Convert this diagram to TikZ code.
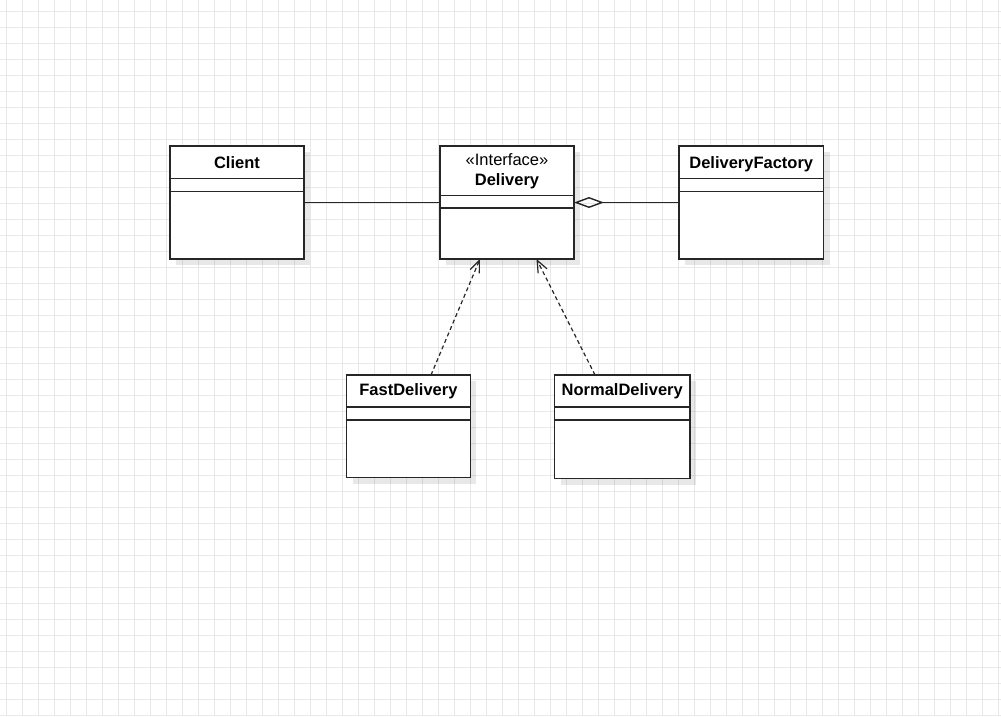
\documentclass[tikz,border=0pt]{standalone}
\usepackage{fontspec}
\setmainfont{Liberation Sans}
\usetikzlibrary{arrows.meta,calc,shadows}

\tikzset{
  gridline/.style={black!9, line width=0.8pt},
  classbox/.style={draw=black!85, line width=1.3pt, fill=white, anchor=north west,
    inner sep=0pt, outer sep=0pt,
    drop shadow={shadow xshift=6pt, shadow yshift=-6pt, fill=black, opacity=0.09}},
  classline/.style={black!85, line width=1.3pt},
  classname/.style={font=\fontsize{16.5}{19}\selectfont\bfseries, text height=11.8pt, text depth=0pt, inner sep=0pt},
  stereotype/.style={font=\fontsize{16.5}{19}\selectfont, text height=11.8pt, text depth=0pt, inner sep=0pt},
  assoc/.style={black!85, line width=1.4pt},
  aggregation/.style={black!85, line width=1.4pt, {Diamond[open,length=30pt,width=11pt]}-},
  realize/.style={black!85, line width=1.2pt, dash pattern=on 4pt off 3pt, -{Straight Barb[length=12pt,width=10pt]}}
}

\begin{document}
\begin{tikzpicture}[x=1pt, y=-1pt]
\useasboundingbox (0,0) rectangle (1001,716);

% Background grid
\foreach \x in {6.7,22.7,...,1000} \draw[gridline] (\x,0) -- (\x,716);
\foreach \y in {11.7,27.7,...,716} \draw[gridline] (0,\y) -- (1001,\y);

% Client
\node[classbox, minimum width=134pt, minimum height=113pt] (client) at (170,146) {};
\node[classname] (clientname) at ($(client.north)+(0,16.3)$) {Client};
\draw[classline] ($(client.north west)+(0,32.5)$) -- ($(client.north east)+(0,32.5)$);
\draw[classline] ($(client.north west)+(0,45.5)$) -- ($(client.north east)+(0,45.5)$);

% Delivery interface
\node[classbox, minimum width=134pt, minimum height=113pt] (delivery) at (440,146) {};
\node[stereotype] (deliverystereo) at ($(delivery.north)+(0,14)$) {«Interface»};
\node[classname] (deliveryname) at ($(delivery.north)+(0,33.5)$) {Delivery};
\draw[classline] ($(delivery.north west)+(0,49.5)$) -- ($(delivery.north east)+(0,49.5)$);
\draw[classline] ($(delivery.north west)+(0,62)$) -- ($(delivery.north east)+(0,62)$);

% DeliveryFactory
\node[classbox, minimum width=144.5pt, minimum height=113pt] (factory) at (679,146) {};
\node[classname] (factoryname) at ($(factory.north)+(0,16.3)$) {DeliveryFactory};
\draw[classline] ($(factory.north west)+(0,32.5)$) -- ($(factory.north east)+(0,32.5)$);
\draw[classline] ($(factory.north west)+(0,45.5)$) -- ($(factory.north east)+(0,45.5)$);

% FastDelivery
\node[classbox, minimum width=123.5pt, minimum height=102.5pt] (fast) at (346.7,375) {};
\node[classname] (fastname) at ($(fast.north)+(0,15)$) {FastDelivery};
\draw[classline] ($(fast.north west)+(0,32)$) -- ($(fast.north east)+(0,32)$);
\draw[classline] ($(fast.north west)+(0,45)$) -- ($(fast.north east)+(0,45)$);

% NormalDelivery
\node[classbox, minimum width=135.5pt, minimum height=103.5pt] (normal) at (554.5,375) {};
\node[classname] (normalname) at ($(normal.north)+(0,15)$) {NormalDelivery};
\draw[classline] ($(normal.north west)+(0,32)$) -- ($(normal.north east)+(0,32)$);
\draw[classline] ($(normal.north west)+(0,45)$) -- ($(normal.north east)+(0,45)$);

% Relations
\draw[assoc] (client) -- (delivery);
\draw[aggregation] (delivery) -- (factory);

\coordinate (fastport) at ($(fast.north west)+(84.3,0)$);
\coordinate (fasttarget) at ($(delivery.south west)+(40,0)$);
\coordinate (normalport) at ($(normal.north west)+(40.5,0)$);
\coordinate (normaltarget) at ($(delivery.south west)+(96.5,0)$);
\draw[realize] (fastport) -- (fasttarget);
\draw[realize] (normalport) -- (normaltarget);

\end{tikzpicture}
\end{document}
